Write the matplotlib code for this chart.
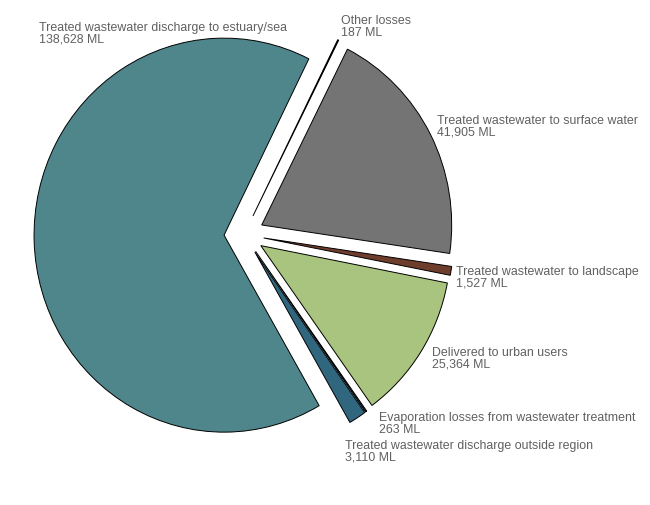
import matplotlib
matplotlib.use('Agg')
import matplotlib.pyplot as plt

# data, clockwise from the big slice
labels = ['Treated wastewater discharge to estuary/sea',
          'Other losses',
          'Treated wastewater to surface water',
          'Treated wastewater to landscape',
          'Delivered to urban users',
          'Evaporation losses from wastewater treatment',
          'Treated wastewater discharge outside region']
values = [138628, 187, 41905, 1527, 25364, 263, 3110]
colors = ['#4e868c', '#0b1a2a', '#737473', '#6f3d2b', '#a8c47e', '#15303f', '#30677f']

# label anchor (left x, first line centre y) in pixels from top-left
label_pos = [(39, 25), (341, 18), (437, 118), (456, 269),
             (432, 350), (379, 415), (345, 443)]

W, H = 650, 505
CX, CY = 244, 234.5      # pie centre, pixels
RX, RY = 190, 197        # the original pie is a little taller than wide

fig = plt.figure(figsize=(W / 100, H / 100), dpi=100)
ax = fig.add_axes([0, 0, 1, 1])

total = sum(values)
# big slice ends ~26.5 deg clockwise from top
start = 63.5 + 360 * values[0] / total

ax.pie(values, colors=colors, radius=1, center=(0, 0),
       explode=[0.105] * len(values), startangle=start, counterclock=False,
       wedgeprops=dict(edgecolor='black', linewidth=0.7), frame=False)
ax.set_xlim(-CX / RX, (W - CX) / RX)
ax.set_ylim((CY - H) / RY, CY / RY)
ax.set_aspect('auto')
ax.axis('off')

for lab, v, (x, y) in zip(labels, values, label_pos):
    fig.text(x / W, 1 - (y - 3.5) / H, lab + '\n' + f'{v:,} ML', ha='left', va='top',
             fontsize=8.9, family='Liberation Sans', color='#606060',
             linespacing=1.05)

fig.savefig('out.png', dpi=100)
